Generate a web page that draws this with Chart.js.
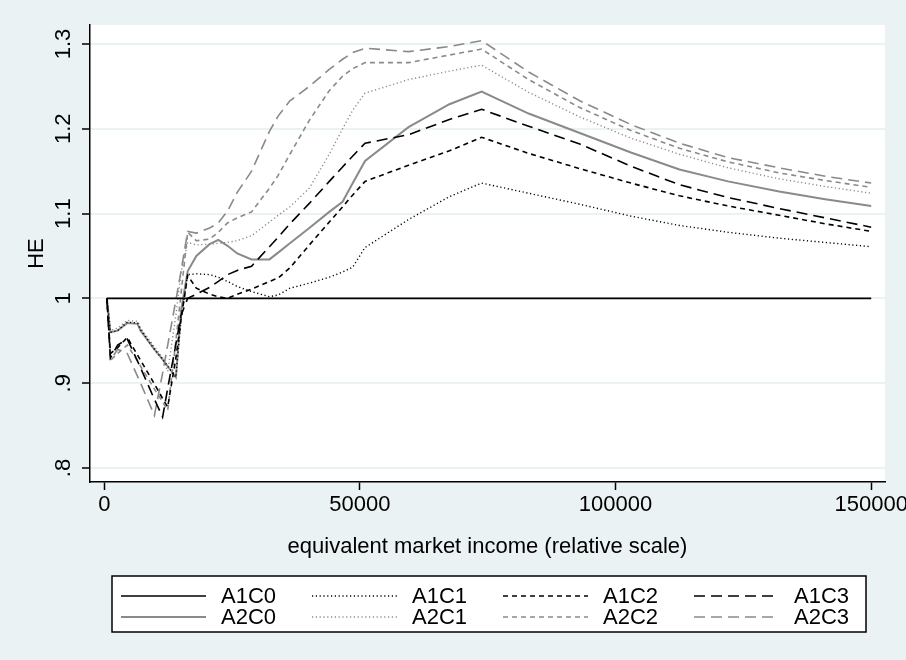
<!DOCTYPE html>
<html>
<head>
<meta charset="utf-8">
<title>HE by equivalent market income</title>
<script src="https://cdn.jsdelivr.net/npm/chart.js@4/dist/chart.umd.min.js"></script>
<style>
  html, body { margin: 0; padding: 0; background: #eaf2f3; }
  #chart { display: block; }
</style>
</head>
<body>
<canvas id="chart" width="906" height="660"></canvas>
<script>
"use strict";

// values
const incomeLevels = [
  500, 1200, 2600, 4500, 6500, 7100, 9800, 11400, 12400, 14000,
  15000, 16300, 18000, 20600, 22300, 24100, 26000, 28800, 32300, 34000,
  36300, 40100, 44000, 46600, 48600, 51000, 59500, 67500, 73800, 83000,
  93000, 103000, 112500, 122000, 132000, 141000, 150000,
];
const a1c0 = [
  1, 1, 1, 1, 1, 1, 1, 1, 1, 1,
  1, 1, 1, 1, 1, 1, 1, 1, 1, 1,
  1, 1, 1, 1, 1, 1, 1, 1, 1, 1,
  1, 1, 1, 1, 1, 1, 1,
];
const a1c1 = [
  1.000, 0.960, 0.962, 0.972, 0.971, 0.963, 0.940, 0.928, 0.920, 0.907,
  0.975, 1.028, 1.029, 1.028, 1.025, 1.020, 1.014, 1.008, 1.002, 1.004,
  1.012, 1.018, 1.025, 1.031, 1.037, 1.060, 1.093, 1.120, 1.136, 1.124,
  1.111, 1.097, 1.086, 1.078, 1.071, 1.066, 1.061,
];
const a1c2 = [
  1.000, 0.935, 0.942, 0.954, 0.933, 0.927, 0.899, 0.882, 0.872, 0.930,
  0.975, 1.027, 1.012, 1.005, 1.002, 1.000, 1.005, 1.011, 1.020, 1.024,
  1.036, 1.063, 1.090, 1.108, 1.122, 1.138, 1.157, 1.174, 1.190, 1.171,
  1.153, 1.136, 1.121, 1.109, 1.098, 1.088, 1.079,
];
const a1c3 = [
  1.000, 0.930, 0.945, 0.952, 0.926, 0.918, 0.881, 0.860, 0.894, 0.946,
  0.980, 1.000, 1.005, 1.013, 1.020, 1.028, 1.033, 1.038, 1.061, 1.072,
  1.088, 1.112, 1.138, 1.155, 1.168, 1.183, 1.193, 1.211, 1.223, 1.203,
  1.182, 1.156, 1.134, 1.119, 1.106, 1.095, 1.084,
];
const a2c0 = [
  1.000, 0.960, 0.962, 0.971, 0.970, 0.962, 0.940, 0.928, 0.920, 0.907,
  0.985, 1.032, 1.050, 1.064, 1.069, 1.062, 1.053, 1.046, 1.046, 1.054,
  1.065, 1.083, 1.102, 1.114, 1.136, 1.162, 1.202, 1.229, 1.244, 1.218,
  1.195, 1.172, 1.152, 1.138, 1.126, 1.117, 1.109,
];
const a2c1 = [
  1.000, 0.962, 0.965, 0.974, 0.973, 0.965, 0.943, 0.930, 0.914, 0.980,
  1.030, 1.066, 1.063, 1.064, 1.065, 1.066, 1.068, 1.074, 1.090, 1.098,
  1.108, 1.130, 1.170, 1.200, 1.222, 1.242, 1.258, 1.268, 1.275, 1.243,
  1.214, 1.189, 1.170, 1.154, 1.141, 1.132, 1.124,
];
const a2c2 = [
  1.000, 0.927, 0.935, 0.945, 0.926, 0.920, 0.893, 0.878, 0.868, 0.950,
  1.005, 1.078, 1.068, 1.070, 1.078, 1.089, 1.095, 1.102, 1.130, 1.145,
  1.170, 1.210, 1.245, 1.262, 1.271, 1.278, 1.278, 1.287, 1.294, 1.258,
  1.225, 1.198, 1.177, 1.161, 1.148, 1.139, 1.131,
];
const a2c3 = [
  1.000, 0.927, 0.940, 0.935, 0.908, 0.900, 0.862, 0.912, 0.945, 0.998,
  1.032, 1.079, 1.077, 1.083, 1.089, 1.103, 1.125, 1.150, 1.197, 1.215,
  1.233, 1.250, 1.270, 1.282, 1.290, 1.295, 1.291, 1.297, 1.304, 1.267,
  1.233, 1.205, 1.183, 1.166, 1.154, 1.144, 1.136,
];

const seriesNames = ["A1C0", "A1C1", "A1C2", "A1C3", "A2C0", "A2C1", "A2C2", "A2C3"];
const seriesValues = [a1c0, a1c1, a1c2, a1c3, a2c0, a2c1, a2c2, a2c3];
const xTickValues = [0, 50000, 100000, 150000];
const yTickValues = [0.8, 0.9, 1, 1.1, 1.2, 1.3];
const yTickLabels = [".8", ".9", "1", "1.1", "1.2", "1.3"];

const BG = "#eaf2f3";
const GRAY = "#8a8a8a";
const FONT = "'Liberation Sans', Arial, Helvetica, sans-serif";

const lineStyles = [
  {color: "#000", dash: [], width: 1.6},
  {color: "#000", dash: [1.2, 2.6], width: 1.4},
  {color: "#000", dash: [5, 4], width: 1.6},
  {color: "#000", dash: [11, 6], width: 1.6},
  {color: GRAY, dash: [], width: 2},
  {color: GRAY, dash: [1.2, 2.6], width: 1.4},
  {color: GRAY, dash: [5, 4], width: 1.6},
  {color: GRAY, dash: [11, 6], width: 1.6},
];

const datasets = seriesNames.map((name, i) => ({
  label: name,
  data: incomeLevels.map((x, j) => ({x, y: seriesValues[i][j]})),
  borderColor: lineStyles[i].color,
  borderDash: lineStyles[i].dash,
  borderWidth: lineStyles[i].width,
  pointRadius: 0,
  tension: 0,
  fill: false,
}));

// Stata-like frame: panel colours, vertical y labels and a boxed 4x2 legend
const stataFrame = {
  id: "stataFrame",
  beforeDraw(chart) {
    const {ctx, chartArea} = chart;
    ctx.save();
    ctx.fillStyle = BG;
    ctx.fillRect(0, 0, chart.width, chart.height);
    ctx.fillStyle = "#fff";
    ctx.fillRect(chartArea.left, chartArea.top,
        chartArea.right - chartArea.left, chartArea.bottom - chartArea.top);
    ctx.restore();
  },
  afterDraw(chart) {
    const {ctx} = chart;
    const yScale = chart.scales.y;
    ctx.save();
    ctx.fillStyle = "#000";
    ctx.font = `22px ${FONT}`;
    ctx.textAlign = "center";
    ctx.textBaseline = "alphabetic";
    yScale.ticks.forEach((tick, i) => {
      const y = yScale.getPixelForValue(tick.value);
      ctx.save();
      ctx.translate(yScale.right - 20, y);
      ctx.rotate(-Math.PI / 2);
      ctx.fillText(yTickLabels[i], 0, 0);
      ctx.restore();
    });

    const box = {left: 112, top: 576, right: 866, bottom: 632};
    ctx.fillStyle = "#fff";
    ctx.fillRect(box.left, box.top, box.right - box.left, box.bottom - box.top);
    ctx.strokeStyle = "#000";
    ctx.lineWidth = 1.5;
    ctx.strokeRect(box.left, box.top, box.right - box.left, box.bottom - box.top);

    ctx.textAlign = "left";
    ctx.textBaseline = "middle";
    chart.data.datasets.forEach((ds, i) => {
      const x = 121 + (i % 4) * 191;
      const y = 596 + Math.floor(i / 4) * 21;
      ctx.beginPath();
      ctx.setLineDash(ds.borderDash);
      ctx.strokeStyle = ds.borderColor;
      ctx.lineWidth = ds.borderWidth;
      ctx.moveTo(x, y);
      ctx.lineTo(x + 85, y);
      ctx.stroke();
      ctx.setLineDash([]);
      ctx.fillStyle = "#000";
      ctx.fillText(ds.label, x + 100, y + 1);
    });
    ctx.restore();
  },
};

Chart.defaults.font.family = FONT;
Chart.defaults.font.size = 22;
Chart.defaults.color = "#000";

new Chart(document.getElementById("chart"), {
  type: "line",
  data: {datasets},
  plugins: [stataFrame],
  options: {
    responsive: false,
    animation: false,
    devicePixelRatio: 1,
    layout: {padding: {top: 25, right: 21, bottom: 98, left: 0}},
    plugins: {
      legend: {display: false},
      tooltip: {enabled: false},
    },
    scales: {
      x: {
        type: "linear",
        min: -2800,
        max: 152700,
        afterBuildTicks: (scale) => {
          scale.ticks = xTickValues.map((value) => ({value}));
        },
        afterFit: (scale) => {
          scale.height = 80;
          scale.paddingLeft = 0;
          scale.paddingRight = 0;
        },
        ticks: {
          callback: (value) => String(value),
          maxRotation: 0,
          padding: 2,
          font: {size: 22},
        },
        grid: {
          drawOnChartArea: false,
          drawTicks: true,
          tickLength: 8,
          tickColor: "#000",
          tickWidth: 1.5,
        },
        border: {display: true, color: "#000", width: 1.5},
        title: {
          display: true,
          text: "equivalent market income (relative scale)",
          font: {size: 22},
          padding: {top: 4, bottom: 2},
        },
      },
      y: {
        type: "linear",
        min: 0.7835,
        max: 1.3224,
        afterBuildTicks: (scale) => {
          scale.ticks = yTickValues.map((value) => ({value}));
        },
        afterFit: (scale) => {
          scale.width = 90;
          scale.paddingTop = 0;
          scale.paddingBottom = 0;
        },
        ticks: {display: false},
        grid: {
          color: BG,
          lineWidth: 2,
          drawTicks: true,
          tickLength: 8,
          tickColor: "#000",
          tickWidth: 1.5,
        },
        border: {display: true, color: "#000", width: 1.5},
        title: {
          display: true,
          text: "HE",
          font: {size: 22},
          padding: {top: 24, bottom: 0},
        },
      },
    },
  },
});
</script>
</body>
</html>
